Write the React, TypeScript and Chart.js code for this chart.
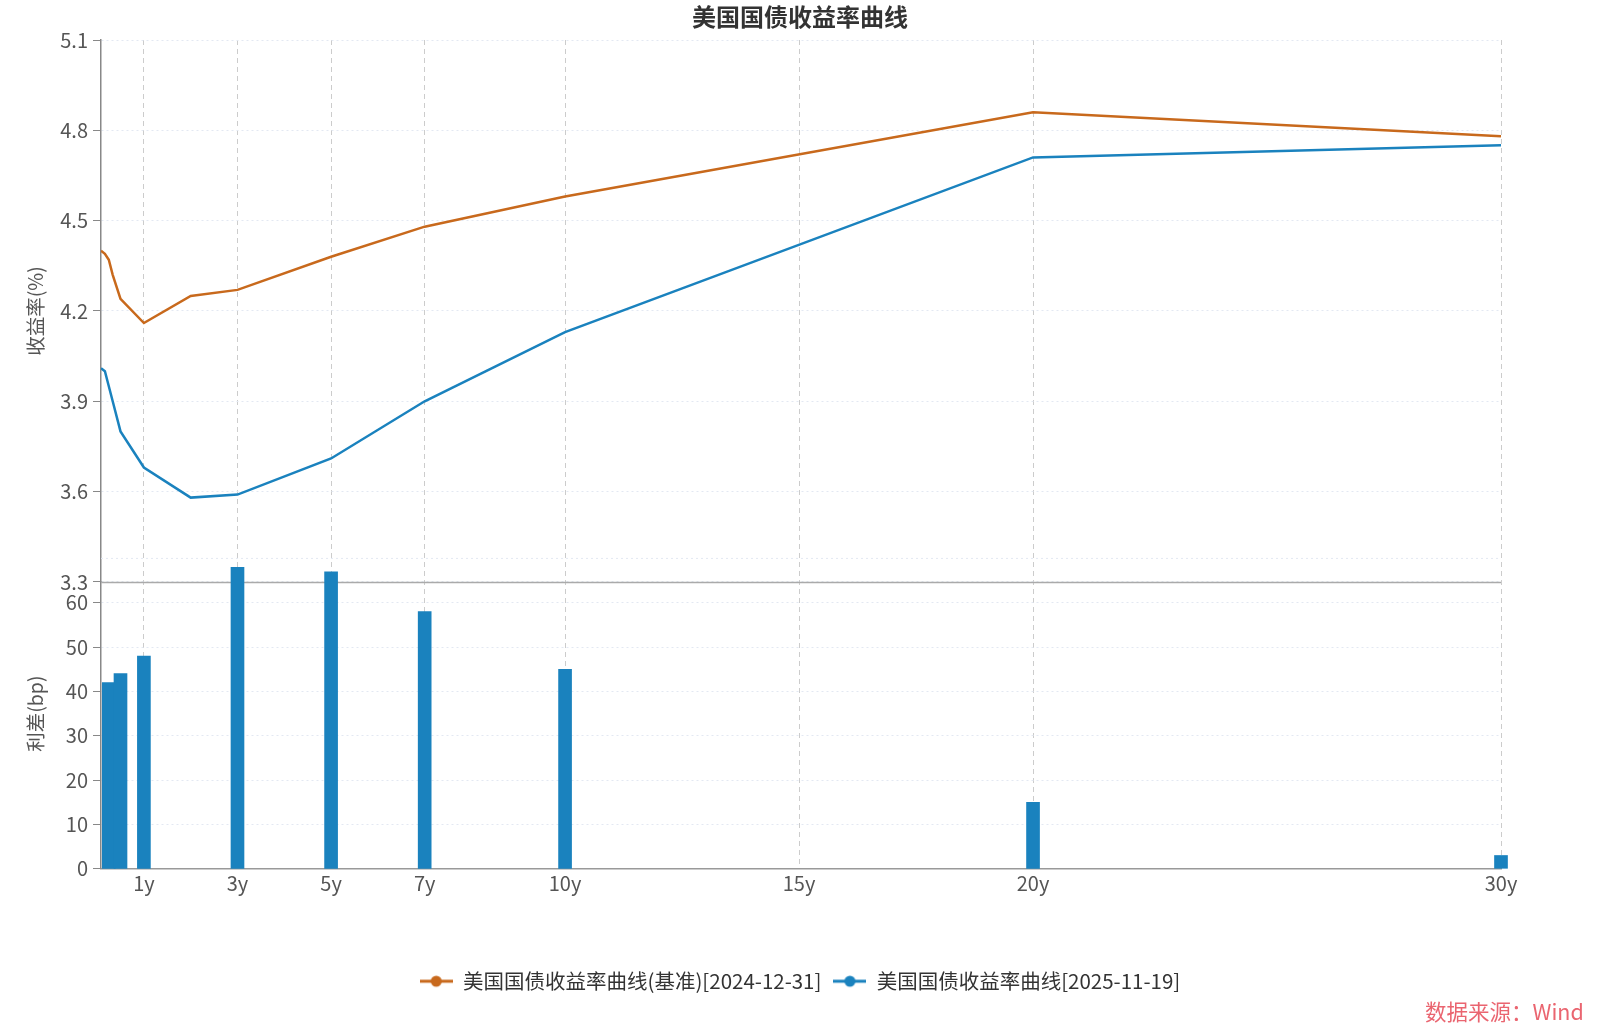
import React, { useEffect, useRef } from 'react';
import { Chart, registerables } from 'chart.js';

Chart.register(...registerables);

// ---- data ----
const tenorYears = [0.0833, 0.1667, 0.25, 0.3333, 0.5, 1, 2, 3, 5, 7, 10, 20, 30];
const yieldBase = [4.40, 4.39, 4.37, 4.32, 4.24, 4.16, 4.25, 4.27, 4.38, 4.48, 4.58, 4.86, 4.78];
const yieldLatest = [4.01, 4.00, 3.95, 3.90, 3.80, 3.68, 3.58, 3.59, 3.71, 3.90, 4.13, 4.71, 4.75];
const spreadTenors = [0.25, 0.5, 1, 3, 5, 7, 10, 20, 30];
const spreadBp = [42, 44, 48, 68, 67, 58, 45, 15, 3];
const xTickYears = [1, 3, 5, 7, 10, 15, 20, 30];
const yieldTicks = [3.3, 3.6, 3.9, 4.2, 4.5, 4.8, 5.1];
const spreadTicks = [0, 10, 20, 30, 40, 50, 60];
const spreadExtraGrid = 70;
const seriesLabels = ['美国国债收益率曲线(基准)[2024-12-31]', '美国国债收益率曲线[2025-11-19]'];
const chartTitle = '美国国债收益率曲线';
const yieldAxisTitle = '收益率(%)';
const spreadAxisTitle = '利差(bp)';
const sourceText = '数据来源：Wind';

const ORANGE = '#C8691C';
const BLUE = '#1A82BE';
const FONT = "'Noto Sans CJK SC', 'Noto Sans', sans-serif";

function makeMarker(color: string): HTMLCanvasElement {
  const c = document.createElement('canvas');
  c.width = 33;
  c.height = 14;
  const g = c.getContext('2d')!;
  g.strokeStyle = color;
  g.lineWidth = 3;
  g.beginPath();
  g.moveTo(0, 7);
  g.lineTo(33, 7);
  g.stroke();
  g.fillStyle = color;
  g.beginPath();
  g.arc(16.5, 7, 5.5, 0, Math.PI * 2);
  g.fill();
  return c;
}

const separatorPlugin = {
  id: 'panelSeparator',
  beforeDatasetsDraw(chart: any) {
    const { ctx, chartArea } = chart;
    const y = chart.scales.y;
    const y2 = chart.scales.y2;
    ctx.save();
    const gy = y2.getPixelForValue(spreadExtraGrid);
    ctx.strokeStyle = '#e3e8f2';
    ctx.lineWidth = 1;
    ctx.setLineDash([2, 3]);
    ctx.beginPath();
    ctx.moveTo(chartArea.left, gy);
    ctx.lineTo(chartArea.right, gy);
    ctx.stroke();
    const sy = Math.round(y.getPixelForValue(y.min)) + 0.5;
    ctx.setLineDash([]);
    ctx.strokeStyle = '#aaaaaa';
    ctx.lineWidth = 1.5;
    ctx.beginPath();
    ctx.moveTo(chartArea.left, sy);
    ctx.lineTo(chartArea.right, sy);
    ctx.stroke();
    ctx.restore();
  },
  afterDraw(chart: any) {
    // title of the spread panel, centred on its full grid (0 – 70 bp)
    const { ctx } = chart;
    const y2 = chart.scales.y2;
    const top = y2.getPixelForValue(spreadExtraGrid);
    const cy = (top + y2.bottom) / 2;
    const cx = y2.left + (19.5 * 1.2) / 2 + 24;
    ctx.save();
    ctx.translate(cx, cy);
    ctx.rotate(-Math.PI / 2);
    ctx.font = `19.5px ${FONT}`;
    ctx.fillStyle = '#555';
    ctx.textAlign = 'center';
    ctx.textBaseline = 'middle';
    ctx.fillText(spreadAxisTitle, 0, 0);
    ctx.restore();
  },
};

export default function App() {
  const ref = useRef<HTMLCanvasElement>(null);

  useEffect(() => {
    document.body.style.margin = '0';
    Chart.defaults.font.family = FONT;
    const markers = [makeMarker(ORANGE), makeMarker(BLUE)];
    const chart = new Chart(ref.current!, {
      type: 'line',
      data: {
        datasets: [
          {
            type: 'line',
            label: seriesLabels[0],
            data: tenorYears.map((x, i) => ({ x, y: yieldBase[i] })),
            borderColor: ORANGE,
            backgroundColor: ORANGE,
            borderWidth: 2.5,
            pointRadius: 0,
            tension: 0,
            yAxisID: 'y',
            xAxisID: 'x',
          },
          {
            type: 'line',
            label: seriesLabels[1],
            data: tenorYears.map((x, i) => ({ x, y: yieldLatest[i] })),
            borderColor: BLUE,
            backgroundColor: BLUE,
            borderWidth: 2.5,
            pointRadius: 0,
            tension: 0,
            yAxisID: 'y',
            xAxisID: 'x',
          },
          {
            type: 'bar',
            label: '利差',
            data: spreadTenors.map((x, i) => ({ x, y: spreadBp[i] })),
            backgroundColor: BLUE,
            borderWidth: 0,
            barThickness: 13,
            clip: false,
            yAxisID: 'y2',
            xAxisID: 'x',
          } as any,
        ],
      },
      options: {
        animation: false,
        responsive: false,
        devicePixelRatio: 1,
        layout: { padding: { left: 0, right: 0, top: 0, bottom: 31.5 } },
        plugins: {
          title: {
            display: true,
            text: chartTitle,
            color: '#333',
            font: { size: 24, weight: 'bold', family: FONT },
            padding: { top: 2, bottom: 9.2 },
          },
          legend: {
            position: 'bottom',
            labels: {
              usePointStyle: true,
              pointStyleWidth: 33,
              padding: 12,
              color: '#333',
              font: { size: 20.5, family: FONT },
              generateLabels: (c: any) =>
                c.data.datasets.slice(0, 2).map((ds: any, i: number) => ({
                  text: ds.label,
                  pointStyle: markers[i],
                  fillStyle: ds.borderColor,
                  strokeStyle: ds.borderColor,
                  lineWidth: 0,
                  fontColor: '#333',
                  hidden: !c.isDatasetVisible(i),
                  datasetIndex: i,
                })),
            },
          },
          tooltip: { enabled: false },
        },
        scales: {
          x: {
            type: 'linear',
            min: tenorYears[0],
            max: 30,
            offset: false,
            afterBuildTicks: (s: any) => {
              s.ticks = xTickYears.map((v) => ({ value: v }));
            },
            afterFit: (s: any) => {
              s.height = 90.2;
            },
            ticks: {
              autoSkip: false,
              maxRotation: 0,
              padding: 3,
              color: '#555',
              font: { size: 20, family: FONT },
              callback: (v: any) => v + 'y',
            },
            grid: { color: '#cccccc', lineWidth: 1, drawTicks: false, offset: false },
            border: { display: true, color: '#999999', width: 1.5, dash: [5, 4] },
          },
          y2: {
            type: 'linear',
            position: 'left',
            stack: 'panels',
            stackWeight: 1,
            min: 0,
            max: 64.7,
            afterBuildTicks: (s: any) => {
              s.ticks = spreadTicks.map((v) => ({ value: v }));
            },
            afterFit: (s: any) => {
              s.width = 101;
            },
            ticks: {
              padding: 5,
              color: '#555',
              font: { size: 20, family: FONT },
              callback: (v: any) => String(v),
            },
            grid: {
              color: (c: any) => (c.tick && c.tick.value === 0 ? 'rgba(0,0,0,0)' : '#e3e8f2'),
              lineWidth: 1,
              tickLength: 8,
              tickColor: '#888',
              tickWidth: 1,
            },
            border: { display: true, color: '#888888', width: 1.5, dash: [2, 3] },
            title: { display: false },
          },
          y: {
            type: 'linear',
            position: 'left',
            stack: 'panels',
            stackWeight: 1.889,
            min: 3.3,
            max: 5.1,
            afterBuildTicks: (s: any) => {
              s.ticks = yieldTicks.map((v) => ({ value: v }));
            },
            afterFit: (s: any) => {
              s.width = 101;
            },
            ticks: {
              padding: 5,
              color: '#555',
              font: { size: 20, family: FONT },
              callback: (v: any) => Number(v).toFixed(1),
            },
            grid: { color: '#e3e8f2', lineWidth: 1, tickLength: 8, tickColor: '#888', tickWidth: 1 },
            border: { display: true, color: '#888888', width: 1.5, dash: [2, 3] },
            title: {
              display: true,
              text: yieldAxisTitle,
              color: '#555',
              font: { size: 19.5, family: FONT },
              padding: { top: 24, bottom: 0 },
            },
          },
          rightSpace: {
            type: 'linear',
            position: 'right',
            display: true,
            ticks: { display: false },
            grid: { display: false, drawTicks: false },
            border: { display: false },
            afterFit: (s: any) => {
              s.width = 99;
            },
          },
        },
      } as any,
      plugins: [separatorPlugin],
    });
    return () => chart.destroy();
  }, []);

  return (
    <div style={{ position: 'relative', width: 1600, height: 1033, background: '#fff' }}>
      <canvas ref={ref} width={1600} height={1033} style={{ width: 1600, height: 1033, display: 'block' }} />
      <div
        style={{
          position: 'absolute',
          left: 1425,
          top: 998,
          fontFamily: FONT,
          fontSize: 21.5,
          lineHeight: '26px',
          color: '#ea6570',
          whiteSpace: 'nowrap',
        }}
      >
        {sourceText}
      </div>
    </div>
  );
}
